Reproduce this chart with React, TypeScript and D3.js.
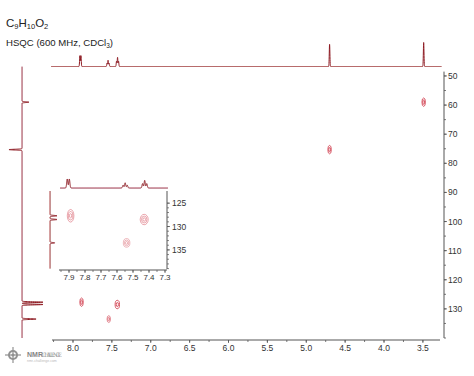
import React from 'react';
import * as d3 from 'd3';

// ---- data ----
const hPeakPpm = [7.911, 7.898, 7.562, 7.549, 7.536, 7.44, 7.427, 7.414, 4.7, 3.49];
const hPeakInt = [0.45, 0.45, 0.14, 0.26, 0.14, 0.22, 0.38, 0.22, 0.92, 1.0];
const cPeakPpm = [59.0, 75.3, 127.7, 128.5, 133.5];
const cPeakInt = [0.33, -0.62, 1.0, 1.0, 0.67];
const crossH = [7.89, 7.43, 7.54, 4.7, 3.49];
const crossC = [127.7, 128.5, 133.5, 75.3, 59.0];
const crossLevels = [2, 2, 2, 2, 2];
const mainXTicks = [8.0, 7.5, 7.0, 6.5, 6.0, 5.5, 5.0, 4.5, 4.0, 3.5];
const mainYTicks = [50, 60, 70, 80, 90, 100, 110, 120, 130];
const insetXTicks = [7.9, 7.8, 7.7, 7.6, 7.5, 7.4, 7.3];
const insetYTicks = [125, 130, 135];

const FONT = 'Liberation Sans, Arial, sans-serif';
const LINE = '#8e1a22';
const AXIS = '#555';
const CONTOUR = '#d03a4a';

function gauss(x: number, ppm: number[], ints: number[], s: number) {
  let v = 0;
  for (let i = 0; i < ppm.length; i++) {
    const d = (x - ppm[i]) / s;
    v += ints[i] * Math.exp(-0.5 * d * d);
  }
  return v;
}

function sample(a: number, b: number, step: number) {
  const out: number[] = [];
  const lo = Math.min(a, b), hi = Math.max(a, b);
  for (let v = lo; v <= hi; v += step) out.push(v);
  return out;
}

function range(a: number, b: number, step: number) {
  const out: number[] = [];
  const n = Math.round((b - a) / step);
  for (let i = 0; i <= n; i++) out.push(+(a + i * step).toFixed(4));
  return out;
}

export default function App() {
  // main scales
  const x = d3.scaleLinear().domain([8.27, 3.28]).range([52, 440]);
  const y = d3.scaleLinear().domain([48.5, 140]).range([71.6, 338]);
  // top projection
  const topBase = 66.5;
  const topY = d3.scaleLinear().domain([0, 1]).range([topBase, topBase - 24]);
  const topPts = sample(8.3, 3.26, 0.001).map((p) => [x(p), topY(gauss(p, hPeakPpm, hPeakInt, 0.004))] as [number, number]);
  const topPath = d3.line()(topPts.filter((d) => d[0] >= 51 && d[0] <= 442)) || '';
  // left projection
  const leftBase = 22;
  const leftX = d3.scaleLinear().domain([0, 1]).range([leftBase, leftBase + 21]);
  const leftPts = sample(46.8, 140, 0.02).map((c) => [leftX(gauss(c, cPeakPpm, cPeakInt, 0.12)), y(c)] as [number, number]);
  const leftPath = d3.line()(leftPts) || '';

  // inset scales
  const ix = d3.scaleLinear().domain([7.9625, 7.2875]).range([59, 167]);
  const iy = d3.scaleLinear().domain([122.4, 139.3]).range([191, 270]);
  const iTopBase = 188;
  const iTopY = d3.scaleLinear().domain([0, 1]).range([iTopBase, iTopBase - 20]);
  const iTopPts = sample(7.9625, 7.28, 0.0004).map((p) => [ix(p), iTopY(gauss(p, hPeakPpm, hPeakInt, 0.0035))] as [number, number]);
  const iTopPath = d3.line()(iTopPts.filter((d) => d[0] >= 60 && d[0] <= 168)) || '';
  const iLeftBase = 50;
  const iLeftX = d3.scaleLinear().domain([0, 1]).range([iLeftBase, iLeftBase + 7]);
  const iLeftPts = sample(122.4, 139.0, 0.01).map((c) => [iLeftX(gauss(c, cPeakPpm, cPeakInt, 0.08)), iy(c)] as [number, number]);
  const iLeftPath = d3.line()(iLeftPts) || '';

  const mainMinorX = range(3.25, 8.25, 0.25);
  const mainMinorY = range(50, 140, 5);
  const insetMinorX = range(7.3, 7.95, 0.05);
  const insetMinorY = range(125, 139, 1);

  const contour = (cx: number, cy: number, rx: number, ry: number, levels: number, key: string, op: number, sw: number) => {
    const rings = [];
    for (let k = 0; k < levels; k++) {
      const f = 1 - k / levels;
      rings.push(
        <ellipse key={key + k} cx={cx} cy={cy} rx={Math.max(0.4, rx * f)} ry={Math.max(0.6, ry * f)} fill="none" stroke={CONTOUR} strokeWidth={sw} opacity={op} />
      );
    }
    return rings;
  };

  return (
    <svg width={474} height={376} style={{ position: 'absolute', left: 0, top: 0, background: '#fff' }} fontFamily={FONT}>
      <rect width={474} height={376} fill="#fff" />
      {/* titles */}
      <text x={6} y={26.7} fontSize={11.5} fill="#222">
        C<tspan fontSize={7.5} dy={2.5}>9</tspan>
        <tspan dy={-2.5}>H</tspan>
        <tspan fontSize={7.5} dy={2.5}>10</tspan>
        <tspan dy={-2.5}>O</tspan>
        <tspan fontSize={7.5} dy={2.5}>2</tspan>
      </text>
      <text x={6} y={45.5} fontSize={9.6} fill="#222">
        HSQC (600 MHz, CDCl<tspan fontSize={6.5} dy={2}>3</tspan>
        <tspan dy={-2}>)</tspan>
      </text>

      {/* top projection */}
      <path d={topPath} fill="none" stroke={LINE} strokeWidth={1} />
      {/* left projection */}
      <path d={leftPath} fill="none" stroke={LINE} strokeWidth={1} />

      {/* main axes */}
      <line x1={52} x2={440} y1={340} y2={340} stroke={AXIS} strokeWidth={1} />
      {mainMinorX.filter((v) => x(v) >= 51 && x(v) <= 441).map((v) => (
        <line key={'mx' + v} x1={x(v)} x2={x(v)} y1={340} y2={342} stroke={AXIS} strokeWidth={0.8} />
      ))}
      {mainXTicks.map((v) => (
        <g key={'tx' + v}>
          <line x1={x(v)} x2={x(v)} y1={340} y2={343} stroke={AXIS} strokeWidth={0.8} />
          <text x={x(v)} y={351} fontSize={8.5} textAnchor="middle" fill="#333">{v.toFixed(1)}</text>
        </g>
      ))}
      <line x1={444} x2={444} y1={y(48.5)} y2={y(140)} stroke={AXIS} strokeWidth={1} />
      {mainMinorY.map((v) => (
        <line key={'my' + v} x1={444} x2={446} y1={y(v)} y2={y(v)} stroke={AXIS} strokeWidth={0.8} />
      ))}
      {mainYTicks.map((v) => (
        <g key={'ty' + v}>
          <line x1={444} x2={447} y1={y(v)} y2={y(v)} stroke={AXIS} strokeWidth={0.8} />
          <text x={448} y={y(v) + 3} fontSize={8.5} fill="#333">{v}</text>
        </g>
      ))}

      {/* main contours */}
      {crossH.map((h, i) => contour(x(h), y(crossC[i]), i === 1 ? 2.2 : 1.7, i === 2 ? 3.4 : 4.2, crossLevels[i], 'mc' + i, i === 2 ? 0.65 : 0.95, 0.9))}

      {/* inset */}
      <path d={iTopPath} fill="none" stroke={LINE} strokeWidth={1} />
      <path d={iLeftPath} fill="none" stroke={LINE} strokeWidth={1} />
      <line x1={59} x2={167} y1={270} y2={270} stroke={AXIS} strokeWidth={1} />
      {insetMinorX.map((v) => (
        <line key={'ix' + v} x1={ix(v)} x2={ix(v)} y1={270} y2={272} stroke={AXIS} strokeWidth={0.7} />
      ))}
      {insetXTicks.map((v) => (
        <g key={'itx' + v}>
          <line x1={ix(v)} x2={ix(v)} y1={270} y2={273} stroke={AXIS} strokeWidth={0.8} />
          <text x={ix(v)} y={280} fontSize={8} textAnchor="middle" fill="#333">{v.toFixed(1)}</text>
        </g>
      ))}
      <line x1={167} x2={167} y1={191} y2={269} stroke={AXIS} strokeWidth={1} />
      {insetMinorY.map((v) => (
        <line key={'iy' + v} x1={167} x2={169} y1={iy(v)} y2={iy(v)} stroke={AXIS} strokeWidth={0.7} />
      ))}
      {insetYTicks.map((v) => (
        <g key={'ity' + v}>
          <line x1={167} x2={170} y1={iy(v)} y2={iy(v)} stroke={AXIS} strokeWidth={0.8} />
          <text x={172} y={iy(v) + 3} fontSize={8.5} fill="#333">{v}</text>
        </g>
      ))}
      {crossH.map((h, i) =>
        h <= 7.96 && h >= 7.29 && crossC[i] >= 122.4 && crossC[i] <= 139.3
          ? contour(ix(h), iy(crossC[i]), i === 1 ? 4 : 3.3, i === 0 ? 6.3 : i === 1 ? 5.2 : 4.3, crossLevels[i] + 1, 'ic' + i, i === 2 ? 0.6 : 0.75, 0.6)
          : null
      )}

      {/* watermark */}
      <g opacity={0.8}>
        <circle cx={13} cy={355} r={5} fill="#777" />
        <circle cx={13} cy={355} r={3} fill="#fff" />
        <circle cx={13} cy={355} r={1.6} fill="#777" />
        <line x1={5} x2={21} y1={355} y2={355} stroke="#777" strokeWidth={1.2} />
        <line x1={13} x2={13} y1={347} y2={363} stroke="#777" strokeWidth={1.2} />
        <text x={27} y={357} fontSize={7} fontWeight="bold" fill="#666">NMR</text>
        <text x={42} y={357} fontSize={6} fontFamily="DejaVu Serif, serif" fill="#888" textLength={20}>CHALLENGE</text>
        <text x={27} y={361.5} fontSize={3.5} fill="#aaa">nmr-challenge.com</text>
      </g>
    </svg>
  );
}
